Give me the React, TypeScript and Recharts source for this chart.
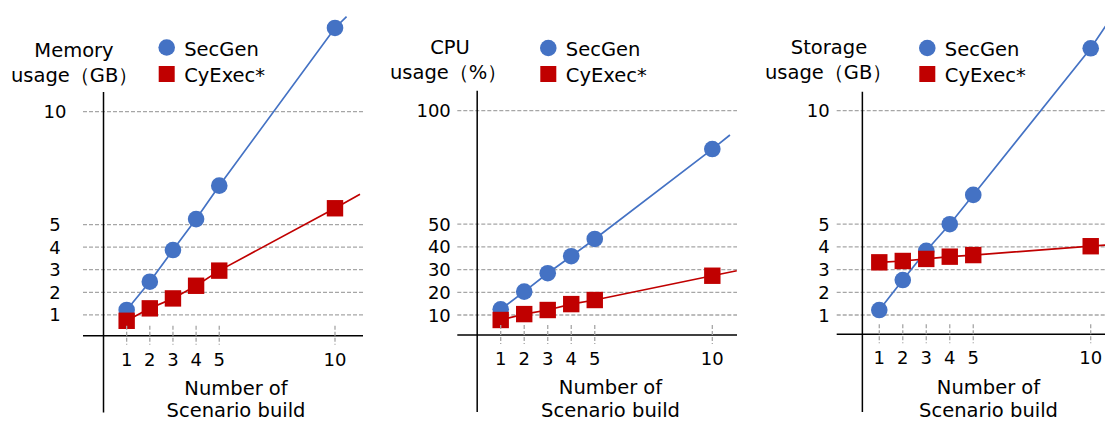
import { ComposedChart, Line, Scatter, XAxis, YAxis, ReferenceLine } from 'recharts'

const BLUE = '#4472C4'
const RED = '#C00000'
const GRID = '#A6A6A6'
const FONT = '"DejaVu Sans", Verdana, sans-serif'

// number of scenario builds (x)
const builds = [1, 2, 3, 4, 5, 10]

// memory usage (GB)
const memSecGen = [1.22, 2.47, 3.87, 5.24, 6.72, 13.7]
const memCyExec = [0.74, 1.29, 1.73, 2.29, 2.96, 5.72]
const memSecGenEnd = [10.5, 14.2]
const memCyExecEnd = [11.08, 6.34]
const memTicks = [1, 2, 3, 4, 5, 10]

// cpu usage (%)
const cpuSecGen = [12.5, 20.3, 28.4, 35.9, 43.5, 83.1]
const cpuCyExec = [7.8, 10.4, 12.2, 14.8, 16.6, 27.3]
const cpuSecGenEnd = [10.75, 89.3]
const cpuCyExecEnd = [11.04, 29.5]
const cpuTicks = [10, 20, 30, 40, 50, 100]

// storage usage (GB)
const stoSecGen = [1.22, 2.54, 3.83, 5.0, 6.29, 12.75]
const stoCyExec = [3.32, 3.38, 3.47, 3.57, 3.64, 4.03]
const stoSecGenEnd = [11.2, 14.6]
const stoCyExecEnd = [11.6, 4.15]
const stoTicks = [1, 2, 3, 4, 5, 10]

const toPoints = (vals: number[]) => builds.map((b, i) => ({ x: b, y: vals[i] }))
const withEnd = (vals: number[], end: number[]) => [...toPoints(vals), { x: end[0], y: end[1] }]

type Panel = {
  left: number
  width: number
  margin: { top: number; right: number; bottom: number; left: number }
  xDomain: [number, number]
  yDomain: [number, number]
  yTicks: number[]
  axisX: number
  axisSpan: [number, number]
  tickAnchor: 'middle' | 'end'
  tickOffset: number
  secgen: number[]
  cyexec: number[]
  secgenEnd: number[]
  cyexecEnd: number[]
}

const panels: Panel[] = [
  {
    left: 0, width: 370,
    margin: { top: 4, right: 7, bottom: 56.3, left: 53 },
    xDomain: [-0.886, 11.21], yDomain: [0.08, 14.76],
    yTicks: memTicks, axisX: 0, axisSpan: [-3.32, 10.86],
    tickAnchor: 'middle', tickOffset: 28,
    secgen: memSecGen, cyexec: memCyExec, secgenEnd: memSecGenEnd, cyexecEnd: memCyExecEnd,
  },
  {
    left: 370, width: 370,
    margin: { top: 4, right: 3, bottom: 57, left: 57.3 },
    xDomain: [-0.846, 11.05], yDomain: [1.19, 147.0],
    yTicks: cpuTicks, axisX: 0, axisSpan: [-32.7, 108.8],
    tickAnchor: 'end', tickOffset: 6.5,
    secgen: cpuSecGen, cyexec: cpuCyExec, secgenEnd: cpuSecGenEnd, cyexecEnd: cpuCyExecEnd,
  },
  {
    left: 740, width: 400,
    margin: { top: 4, right: 10, bottom: 57.7, left: 66.7 },
    xDomain: [-0.813, 11.673], yDomain: [0.15, 14.7],
    yTicks: stoTicks, axisX: 0.28, axisSpan: [-3.27, 10.84],
    tickAnchor: 'end', tickOffset: 7,
    secgen: stoSecGen, cyexec: stoCyExec, secgenEnd: stoSecGenEnd, cyexecEnd: stoCyExecEnd,
  },
]

const XTick = (props: any) => {
  const { x, y, payload } = props
  return (
    <g>
      <line x1={x} x2={x} y1={y - 10} y2={y + 9} stroke={GRID} strokeWidth={1.3} strokeDasharray="4 2" />
      <text x={x} y={y + 30} textAnchor="middle" fontSize={18} fontFamily={FONT} fill="#000">
        {payload.value}
      </text>
    </g>
  )
}

const makeYTick = (anchor: 'middle' | 'end', offset: number) => (props: any) => {
  const { x, y, payload } = props
  return (
    <text x={x - offset} y={y + 6.5} textAnchor={anchor} fontSize={18} fontFamily={FONT} fill="#000">
      {payload.value}
    </text>
  )
}

const Dot = (props: any) => <circle cx={props.cx} cy={props.cy} r={8.3} fill={BLUE} />
const Square = (props: any) => (
  <rect x={props.cx - 8.2} y={props.cy - 8.2} width={16.4} height={16.4} fill={RED} />
)

function PanelChart({ p }: { p: Panel }) {
  return (
    <div style={{ position: 'absolute', left: p.left, top: 0 }}>
      <ComposedChart width={p.width} height={422} margin={p.margin}>
        {p.yTicks.map((t) => (
          <ReferenceLine key={`g-${t}`} y={t} stroke={GRID} strokeWidth={1.3} strokeDasharray="4 2" />
        ))}
        <XAxis
          type="number"
          dataKey="x"
          domain={p.xDomain}
          ticks={builds}
          height={30}
          tickSize={0}
          tickMargin={0}
          tickLine={false}
          axisLine={{ stroke: '#000', strokeWidth: 1.5 }}
          tick={<XTick />}
          interval={0}
        />
        <YAxis
          type="number"
          dataKey="y"
          domain={p.yDomain}
          ticks={p.yTicks}
          width={30}
          tickSize={0}
          tickMargin={0}
          tickLine={false}
          axisLine={false}
          tick={makeYTick(p.tickAnchor, p.tickOffset)}
          interval={0}
        />
        <ReferenceLine
          segment={[{ x: p.axisX, y: p.axisSpan[0] }, { x: p.axisX, y: p.axisSpan[1] }]}
          stroke="#000"
          strokeWidth={1.5}
          ifOverflow="visible"
        />
        <Line data={withEnd(p.secgen, p.secgenEnd)} dataKey="y" type="linear" stroke={BLUE} strokeWidth={1.7} dot={false} activeDot={false} isAnimationActive={false} />
        <Line data={withEnd(p.cyexec, p.cyexecEnd)} dataKey="y" type="linear" stroke={RED} strokeWidth={1.7} dot={false} activeDot={false} isAnimationActive={false} />
        <Scatter data={toPoints(p.secgen)} dataKey="y" shape={Dot} isAnimationActive={false} />
        <Scatter data={toPoints(p.cyexec)} dataKey="y" shape={Square} isAnimationActive={false} />
      </ComposedChart>
    </div>
  )
}

// titles and legends drawn over the charts
const yTitles = [
  { top: 'Memory', topX: 74, bottom: 'usage（GB）', bottomX: 11, y1: 57.3, y2: 81.7 },
  { top: 'CPU', topX: 450, bottom: 'usage（%）', bottomX: 390, y1: 54.3, y2: 79 },
  { top: 'Storage', topX: 829, bottom: 'usage（GB）', bottomX: 765, y1: 54.3, y2: 79 },
]
const xTitleCenters = [236, 610.5, 988.5]
const legendX = [166.7, 548.3, 927.3]

export default function App() {
  const txt = { fontFamily: FONT, fontSize: 19.5, fill: '#000' }
  return (
    <div style={{ position: 'fixed', left: 0, top: 0, width: 1105, height: 422, overflow: 'hidden', background: '#fff' }}>
      {panels.map((p, i) => (
        <PanelChart key={i} p={p} />
      ))}
      <svg width={1105} height={422} style={{ position: 'absolute', left: 0, top: 0, pointerEvents: 'none' }}>
        {yTitles.map((t, i) => (
          <g key={`yt-${i}`}>
            <text x={t.topX} y={t.y1} textAnchor="middle" {...txt}>{t.top}</text>
            <text x={t.bottomX} y={t.y2} textAnchor="start" {...txt}>{t.bottom}</text>
          </g>
        ))}
        {xTitleCenters.map((cx, i) => (
          <g key={`xt-${i}`}>
            <text x={cx} y={i === 0 ? 395 : 394} textAnchor="middle" {...txt}>Number of</text>
            <text x={cx} y={416.5} textAnchor="middle" {...txt}>Scenario build</text>
          </g>
        ))}
        {legendX.map((lx, i) => (
          <g key={`lg-${i}`}>
            <circle cx={lx} cy={i === 0 ? 47.5 : 48} r={8.3} fill={BLUE} />
            <rect x={lx - 8} y={66} width={16} height={16} fill={RED} />
            <text x={lx + 17.5} y={55.5} {...txt}>SecGen</text>
            <text x={lx + 17.5} y={81.5} {...txt}>CyExec*</text>
          </g>
        ))}
      </svg>
    </div>
  )
}
